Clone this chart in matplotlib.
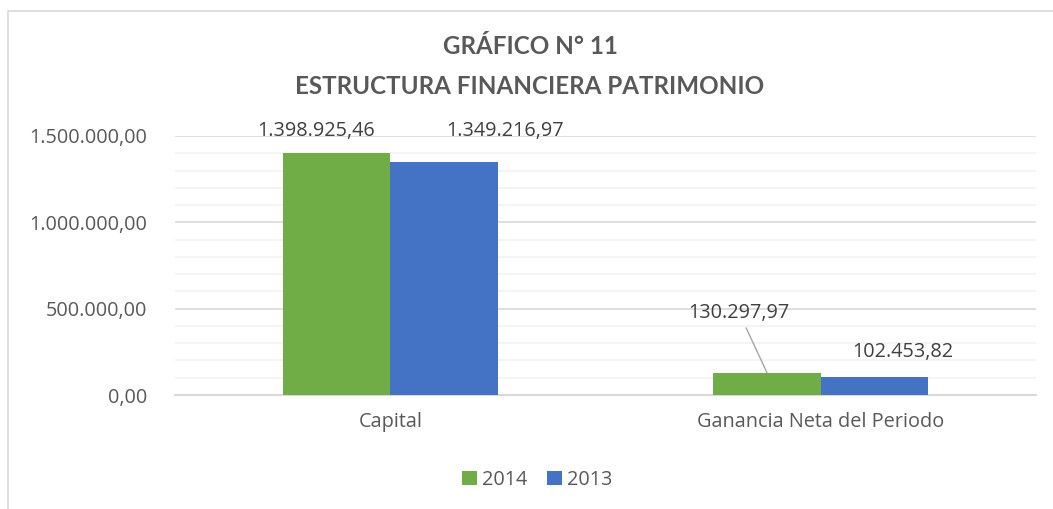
import matplotlib
matplotlib.use("Agg")
import matplotlib.pyplot as plt
from matplotlib.patches import Rectangle
import numpy as np

categories = ["Capital", "Ganancia Neta del Periodo"]
series_names = ["2014", "2013"]
values_2014 = [1398925.46, 130297.97]
values_2013 = [1349216.97, 102453.82]
labels_2014 = ["1.398.925,46", "130.297,97"]
labels_2013 = ["1.349.216,97", "102.453,82"]
yticks = [0, 500000, 1000000, 1500000]
ytick_labels = ["0,00", "500.000,00", "1.000.000,00", "1.500.000,00"]

GREEN = "#70AD47"
BLUE = "#4472C4"
TXT = "#595959"
FS = 14.3

plt.rcParams["font.family"] = ["Open Sans", "DejaVu Sans"]

fig = plt.figure(figsize=(10.53, 5.09), dpi=100)
ax = fig.add_axes([175/1053, 1-395/509, (1036-175)/1053, (395-136)/509])

x = np.arange(len(categories))
w = 0.25
b1 = ax.bar(x - w/2, values_2014, w, color=GREEN, label=series_names[0], zorder=3)
b2 = ax.bar(x + w/2, values_2013, w, color=BLUE, label=series_names[1], zorder=3)

ax.set_xlim(-0.5, 1.5)
ax.set_ylim(0, 1500000)
ax.set_yticks(yticks)
ax.set_yticklabels(ytick_labels, fontsize=FS, color=TXT)
ax.set_yticks(np.arange(0, 1500001, 100000), minor=True)
ax.set_xticks(x)
ax.set_xticklabels(categories, fontsize=FS, color=TXT)
ax.tick_params(axis="both", which="both", length=0)
ax.tick_params(axis="y", pad=20)
ax.tick_params(axis="x", pad=12)
ax.grid(axis="y", which="minor", color="#F2F2F2", linewidth=1.2, zorder=0)
ax.grid(axis="y", which="major", color="#D9D9D9", linewidth=1.2, zorder=0)
for s in ["top", "right", "left"]:
    ax.spines[s].set_visible(False)
ax.spines["bottom"].set_color("#D9D9D9")
ax.spines["bottom"].set_linewidth(1.5)

# data labels (offsets in pixels from bar tops)
offs_2014 = [(-20, 22), (-28, 60)]
offs_2013 = [(61, 31), (28, 25)]
for i, r in enumerate(b1):
    xc = r.get_x() + r.get_width()/2
    yt = r.get_height()
    ap = dict(arrowstyle="-", color="#A6A6A6", lw=1, shrinkA=2, shrinkB=0) if i == 1 else None
    ax.annotate(labels_2014[i], (xc, yt), xytext=offs_2014[i], textcoords="offset pixels",
                ha="center", va="center", fontsize=FS, color="#404040", arrowprops=ap, zorder=5)
for i, r in enumerate(b2):
    xc = r.get_x() + r.get_width()/2
    yt = r.get_height()
    ax.annotate(labels_2013[i], (xc, yt), xytext=offs_2013[i], textcoords="offset pixels",
                ha="center", va="center", fontsize=FS, color="#404040", zorder=5)

fig.text(530/1053, 1-47/509, "GRÁFICO N° 11", ha="center", va="center",
         fontsize=17.4, fontweight="bold", color=TXT, family=["Lato", "DejaVu Sans"])
fig.text(530/1053, 1-87/509, "ESTRUCTURA FINANCIERA PATRIMONIO", ha="center", va="center",
         fontsize=17.4, fontweight="bold", color=TXT, family=["Lato", "DejaVu Sans"])

leg = fig.legend(handles=[b1, b2], labels=series_names, loc="center", bbox_to_anchor=(537/1053, 1-480/509),
                 ncol=2, frameon=False, fontsize=FS, handlelength=0.75, handleheight=0.75,
                 handletextpad=0.25, columnspacing=1.0)
for t in leg.get_texts():
    t.set_color(TXT)

fig.patches.append(Rectangle((8/1053, -0.1), 1.2, 1.1 - 11/509, transform=fig.transFigure,
                             fill=False, edgecolor="#D9D9D9", linewidth=1.2))

fig.savefig("out.png", dpi=100, facecolor="white")
